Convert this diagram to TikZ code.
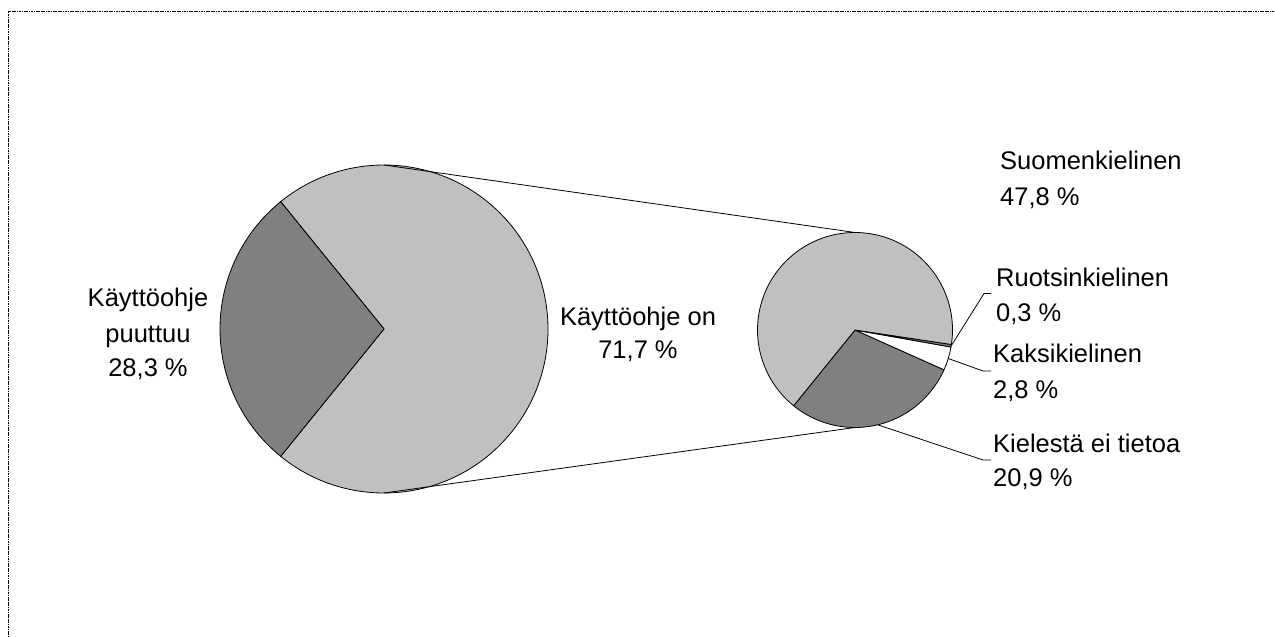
\documentclass[tikz,border=0pt]{standalone}
\usepackage{fontspec}
\setmainfont{Liberation Sans}
\usetikzlibrary{calc}
\definecolor{lgray}{RGB}{192,192,192}
\definecolor{dgray}{RGB}{128,128,128}
\begin{document}
\begin{tikzpicture}[x=1pt,y=1pt,
  slice/.style={draw=black,line width=0.8pt,line join=round},
  conn/.style={draw=black,line width=0.8pt},
  frame/.style={draw=black,line width=1.6pt,dash pattern=on 1.2pt off 0.5pt},
  lbl/.style={inner sep=0pt,font=\fontsize{25.5}{30}\selectfont}]
\useasboundingbox (0,0) rectangle (1275,637);
% frame (top and left edges only)
\draw[frame] (8.3,0) -- (8.3,625.5) -- (1275,625.5);
% centres
\coordinate (L) at (384,308);
\coordinate (S) at (855,307);
% large pie
\draw[slice,fill=lgray] (L) -- +(230.95:164) arc[start angle=230.95,end angle=489.05,radius=164] -- cycle;
\draw[slice,fill=dgray] (L) -- +(129.05:164) arc[start angle=129.05,end angle=230.95,radius=164] -- cycle;
% small pie
\draw[slice,fill=dgray] (S) -- +(231:97.5) arc[start angle=231,end angle=335.9,radius=97.5] -- cycle;
\draw[slice,fill=white] (S) -- +(335.9:97.5) arc[start angle=335.9,end angle=349.95,radius=97.5] -- cycle;
\draw[slice,fill=dgray] (S) -- +(349.95:97.5) arc[start angle=349.95,end angle=351.45,radius=97.5] -- cycle;
\draw[slice,fill=lgray] (S) -- +(351.45:97.5) arc[start angle=351.45,end angle=591,radius=97.5] -- cycle;
% connecting lines between the pies
\coordinate (Ltop) at ($(L)+(90:164)$);
\coordinate (Lbot) at ($(L)+(270:164)$);
\coordinate (Stop) at ($(S)+(90:97.5)$);
\coordinate (Sbot) at ($(S)+(270:97.5)$);
\draw[conn] (Ltop) -- (Stop);
\draw[conn] (Lbot) -- (Sbot);
% leader lines
\coordinate (ruE) at ($(S)+(350.7:97.5)$);
\coordinate (kaE) at ($(S)+(343:97.5)$);
\coordinate (kiE) at ($(S)+(283.5:97.5)$);
\coordinate (ruK) at (984,343.5);
\coordinate (kaK) at (983,266);
\coordinate (kiK) at (983,177);
\coordinate (ruT) at (991,343.5);
\coordinate (kaT) at (991,266);
\coordinate (kiT) at (991,177);
\draw[conn] (ruE) -- (ruK) -- (ruT);
\draw[conn] (kaE) -- (kaK) -- (kaT);
\draw[conn] (kiE) -- (kiK) -- (kiT);
% labels
\node[lbl,anchor=base] (lp1) at (148,330.3) {Käyttöohje};
\node[lbl,anchor=base] (lp2) at (148,294) {puuttuu};
\node[lbl,anchor=base] (lp3) at (148,260.5) {28,3 \%};
\node[lbl,anchor=base] (lo1) at (638,311.3) {Käyttöohje on};
\node[lbl,anchor=base] (lo2) at (638,278) {71,7 \%};
\node[lbl,anchor=base west] (su1) at (1000,467) {Suomenkielinen};
\node[lbl,anchor=base west] (su2) at (1000,431) {47,8 \%};
\node[lbl,anchor=base west] (ru1) at (996,350) {Ruotsinkielinen};
\node[lbl,anchor=base west] (ru2) at (996,315.3) {0,3 \%};
\node[lbl,anchor=base west] (ka1) at (993,274.3) {Kaksikielinen};
\node[lbl,anchor=base west] (ka2) at (993,238.7) {2,8 \%};
\node[lbl,anchor=base west] (ki1) at (993,184.5) {Kielestä ei tietoa};
\node[lbl,anchor=base west] (ki2) at (993,150.5) {20,9 \%};
\end{tikzpicture}
\end{document}
